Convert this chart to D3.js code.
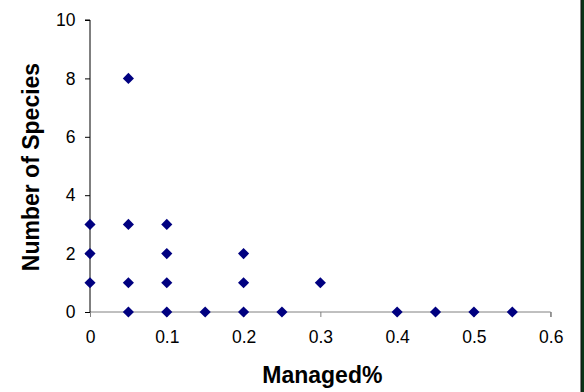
<!DOCTYPE html>
<html>
<head>
<meta charset="utf-8">
<script src="https://cdn.jsdelivr.net/npm/d3@7"></script>
<style>
body { margin: 0; background: #fff; }
svg { display: block; font-family: "Liberation Sans", Arial, sans-serif; }
</style>
</head>
<body>
<svg id="chart" width="584" height="392"></svg>
<script>
// managed share and species count
const managed = [0, 0, 0, 0.05, 0.05, 0.05, 0.05, 0.1, 0.1, 0.1, 0.1, 0.15, 0.2, 0.2, 0.2, 0.25, 0.3, 0.4, 0.45, 0.5, 0.55];
const species = [1, 2, 3, 0, 1, 3, 8, 0, 1, 2, 3, 0, 0, 1, 2, 0, 1, 0, 0, 0, 0];
const xTicks = [0, 0.1, 0.2, 0.3, 0.4, 0.5, 0.6];
const yTicks = [0, 2, 4, 6, 8, 10];

const svg = d3.select("#chart");

const x = d3.scaleLinear().domain([0, 0.6]).range([90, 550.7]);
const y = d3.scaleLinear().domain([0, 10]).range([312, 20]);

// dark border strip on the right
svg.append("rect").attr("x", 581).attr("y", 0).attr("width", 3).attr("height", 392).attr("fill", "#0a3517");
svg.append("rect").attr("x", 580.5).attr("y", 0).attr("width", 1).attr("height", 392).attr("fill", "#111");

// x axis (grey)
const xAxis = svg.append("g")
	.attr("transform", "translate(0," + y(0) + ")")
	.call(d3.axisBottom(x).tickValues(xTicks).tickSize(5).tickPadding(14).tickFormat(d3.format("")));
xAxis.select(".domain").attr("stroke", "#808080").attr("d", "M" + x(0) + ",0H" + x(0.6) + "V5");
xAxis.selectAll(".tick line").attr("stroke", "#808080");
xAxis.selectAll(".tick text").attr("font-size", "17.5px").attr("fill", "#000").attr("font-family", "Liberation Sans, Arial, sans-serif");

// y axis (black)
const yAxis = svg.append("g")
	.attr("transform", "translate(" + x(0) + ",0)")
	.call(d3.axisLeft(y).tickValues(yTicks).tickSize(5).tickPadding(9.5));
yAxis.select(".domain").attr("stroke", "#000").attr("d", "M-5," + y(10) + "H0V" + y(0));
yAxis.selectAll(".tick line").attr("stroke", "#000");
yAxis.selectAll(".tick text").attr("font-size", "17.5px").attr("fill", "#000").attr("font-family", "Liberation Sans, Arial, sans-serif");

// points as diamonds
const pts = managed.map((m, i) => ({m: m, s: species[i]}));
svg.append("g")
	.selectAll("path")
	.data(pts)
	.join("path")
	.attr("d", d3.symbol(d3.symbolSquare, 62))
	.attr("transform", d => "translate(" + x(d.m) + "," + y(d.s) + ") rotate(45)")
	.attr("fill", "#000080");

// axis titles
svg.append("text")
	.attr("x", (x(0) + x(0.6)) / 2 + 2)
	.attr("y", 383)
	.attr("text-anchor", "middle")
	.attr("font-size", "23px")
	.attr("font-weight", "bold")
	.text("Managed%");

svg.append("text")
	.attr("transform", "translate(39," + 167 + ") rotate(-90)")
	.attr("text-anchor", "middle")
	.attr("font-size", "23px")
	.attr("font-weight", "bold")
	.text("Number of Species");
</script>
</body>
</html>
